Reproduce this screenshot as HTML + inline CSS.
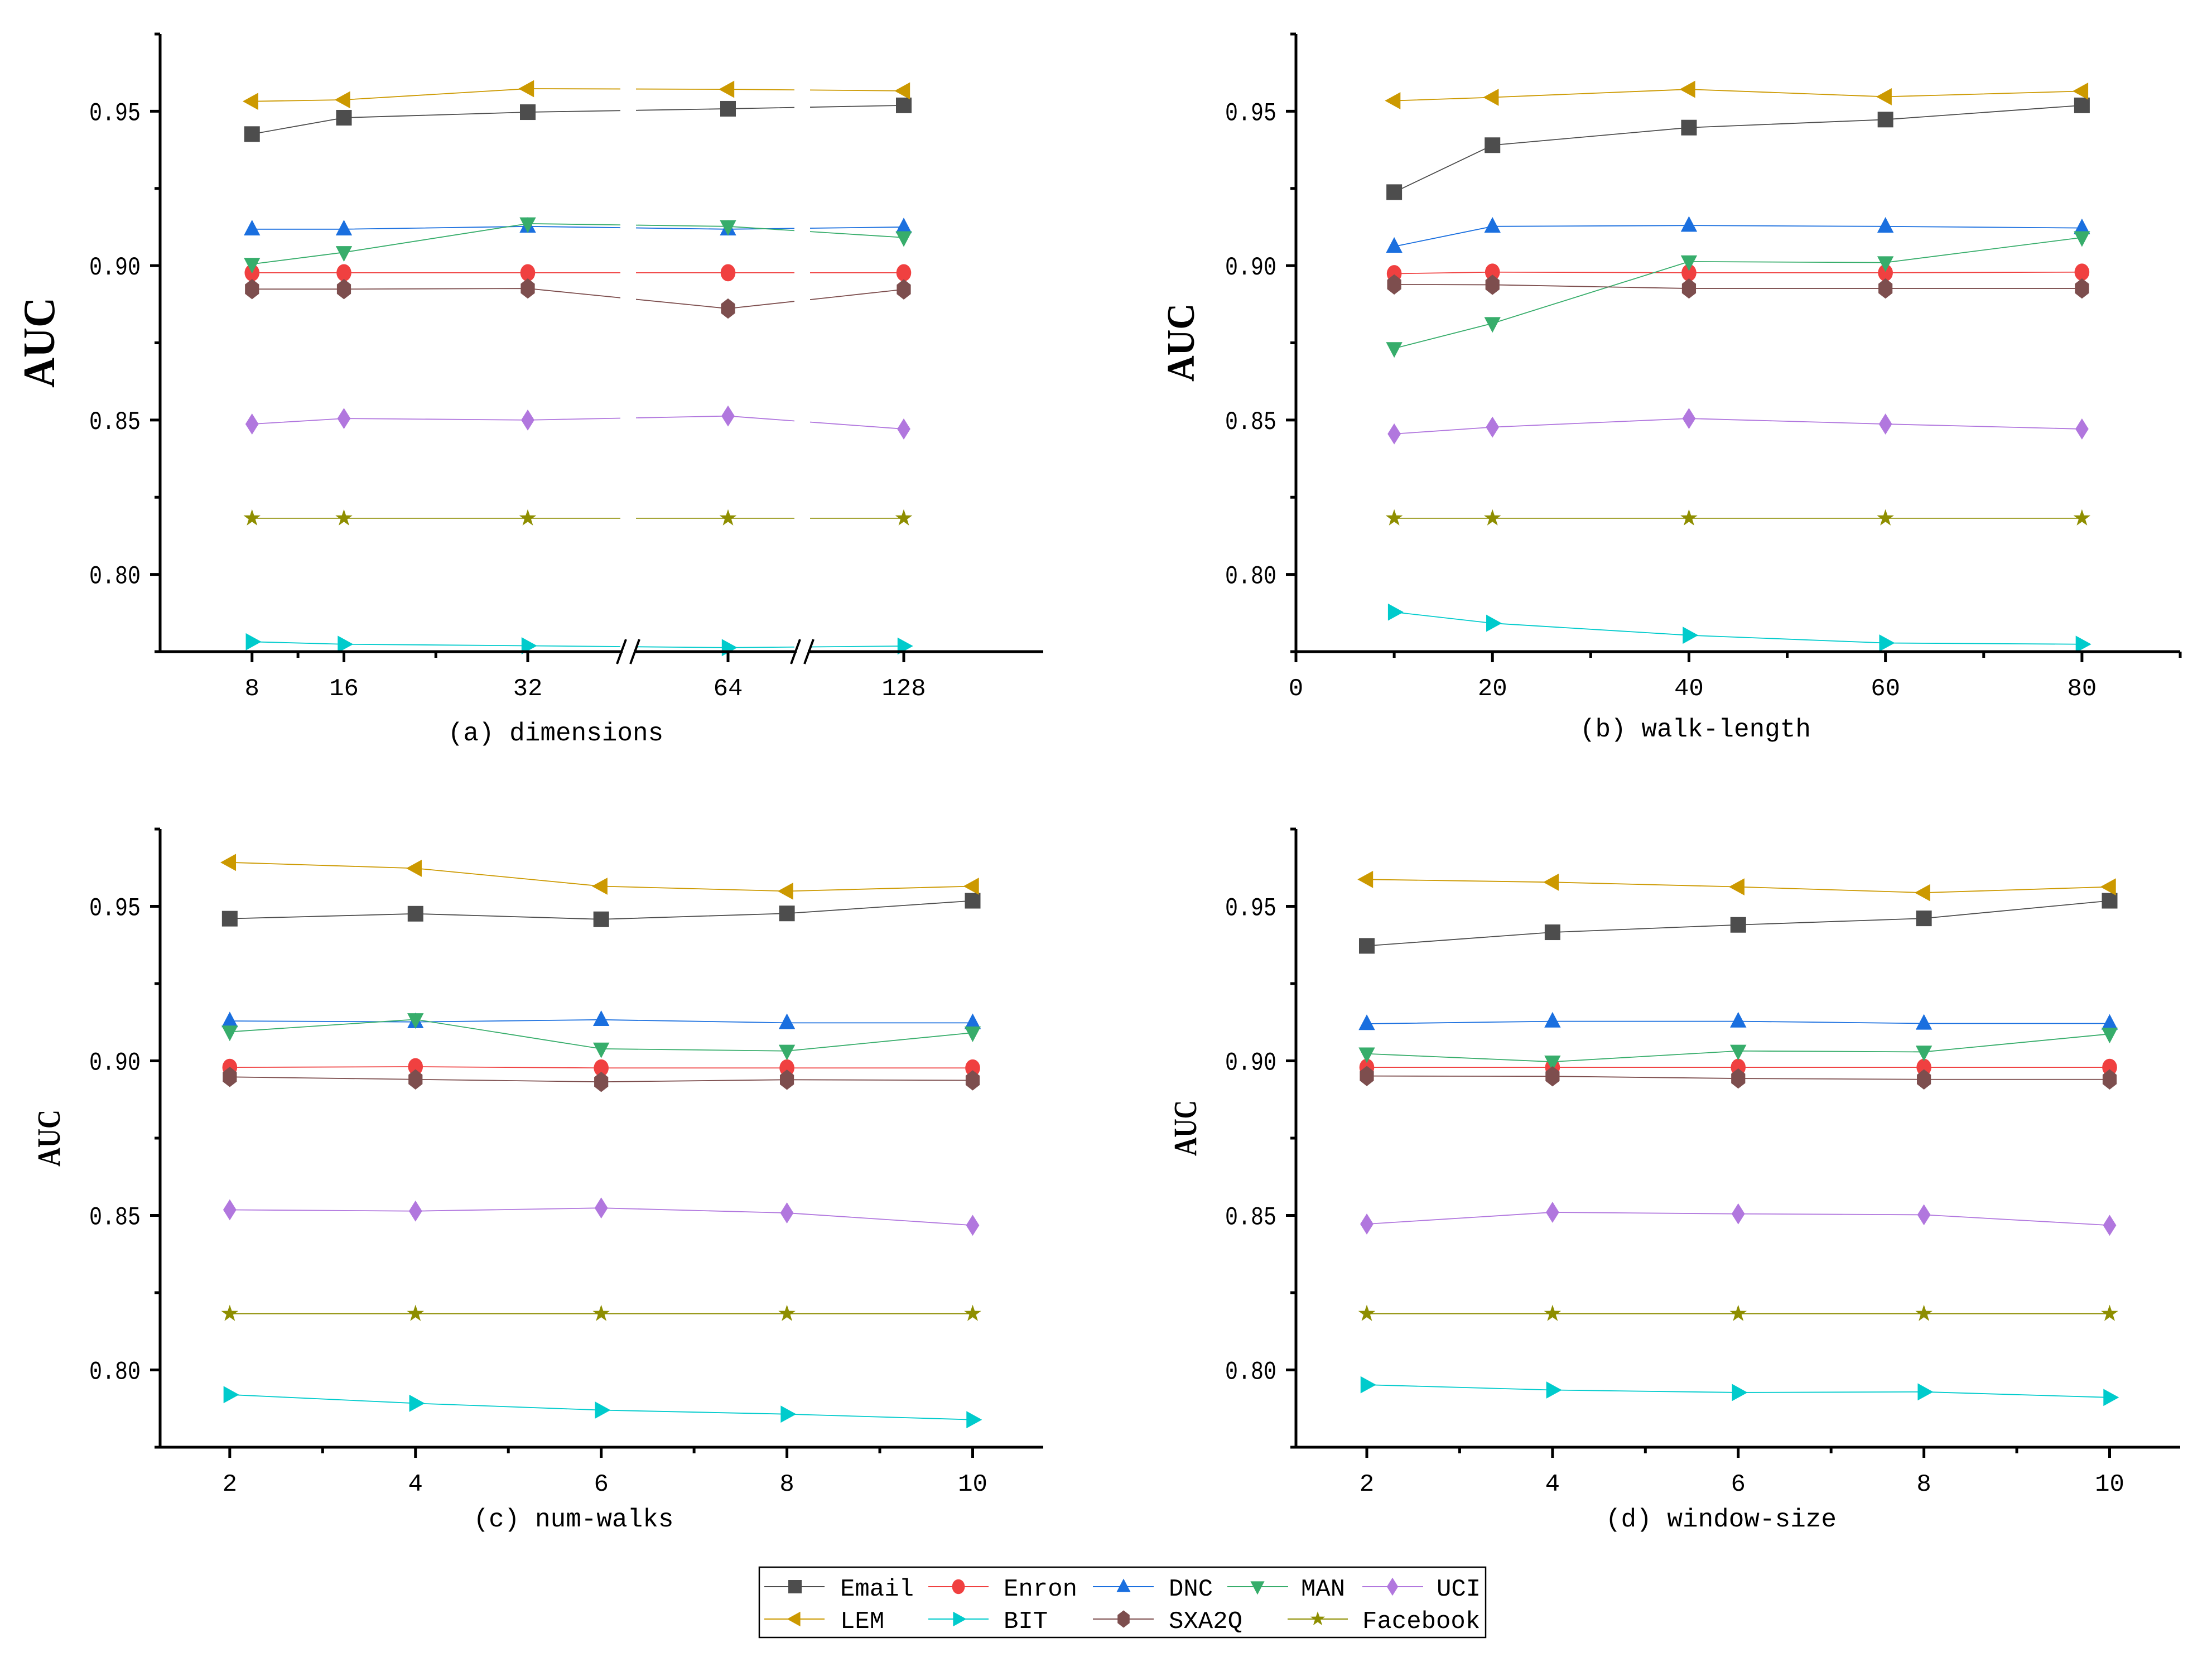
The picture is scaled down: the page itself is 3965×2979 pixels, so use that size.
<!DOCTYPE html>
<html><head><meta charset="utf-8"><style>
html,body{margin:0;padding:0;background:#fff;}
svg{display:block;}
text{font-family:"Liberation Mono",monospace;fill:#000;}
.auc{font-family:"Liberation Serif",serif;font-weight:bold;}
</style></head><body>
<svg id="chart" width="3965" height="2979" viewBox="0 0 3965 2979" xmlns="http://www.w3.org/2000/svg">
<rect width="3965" height="2979" fill="#fff"/>
</svg>
<script>
const seriesNames=["Email","Enron","DNC","MAN","UCI","LEM","BIT","SXA2Q","Facebook"];
const seriesColors=["#4d4d4d","#f04040","#1a6fdf","#37ad6b","#b177de","#cc9900","#00cbcc","#7d4e4e","#8e8e00"];
const seriesShapes=["square","circle","triUp","triDown","diamond","triLeft","triRight","hex","star"];
const yTicks=[0.80,0.85,0.90,0.95];
const yTickLabels=["0.80","0.85","0.90","0.95"];
const xA=[8,16,32,64,128];
const xALabels=["8","16","32","64","128"];
const xB=[10,20,40,60,80];
const xBTicks=[0,20,40,60,80];
const xC=[2,4,6,8,10];
const xD=[2,4,6,8,10];
const valsA=[
[0.9426,0.9479,0.9497,0.9508,0.9519],
[0.8977,0.8977,0.8977,0.8977,0.8977],
[0.9118,0.9118,0.9127,0.9118,0.9125],
[0.9005,0.9043,0.9136,0.9127,0.9091],
[0.8487,0.8505,0.8500,0.8513,0.8471],
[0.9532,0.9537,0.9573,0.9571,0.9566],
[0.7782,0.7774,0.7769,0.7763,0.7768],
[0.8924,0.8924,0.8926,0.8861,0.8923],
[0.8182,0.8182,0.8182,0.8182,0.8182]];
const valsB=[
[0.9238,0.9390,0.9447,0.9473,0.9519],
[0.8974,0.8979,0.8977,0.8977,0.8979],
[0.9062,0.9127,0.9130,0.9127,0.9122],
[0.8732,0.8813,0.9013,0.9010,0.9091],
[0.8455,0.8477,0.8505,0.8487,0.8471],
[0.9534,0.9545,0.9571,0.9547,0.9565],
[0.7878,0.7842,0.7803,0.7778,0.7774],
[0.8939,0.8938,0.8926,0.8926,0.8926],
[0.8182,0.8182,0.8182,0.8182,0.8182]];
const valsC=[
[0.9460,0.9476,0.9458,0.9477,0.9518],
[0.8979,0.8981,0.8977,0.8977,0.8977],
[0.9129,0.9126,0.9133,0.9123,0.9123],
[0.9094,0.9134,0.9039,0.9032,0.9091],
[0.8518,0.8514,0.8524,0.8508,0.8468],
[0.9642,0.9623,0.9565,0.9549,0.9565],
[0.7920,0.7892,0.7870,0.7857,0.7839],
[0.8948,0.8940,0.8932,0.8939,0.8937],
[0.8182,0.8182,0.8182,0.8182,0.8182]];
const valsD=[
[0.9372,0.9416,0.9440,0.9461,0.9518],
[0.8979,0.8979,0.8979,0.8979,0.8979],
[0.9120,0.9128,0.9128,0.9121,0.9121],
[0.9023,0.8997,0.9032,0.9029,0.9087],
[0.8472,0.8510,0.8505,0.8502,0.8468],
[0.9587,0.9578,0.9563,0.9544,0.9563],
[0.7952,0.7935,0.7927,0.7929,0.7911],
[0.8951,0.8950,0.8943,0.8940,0.8940],
[0.8182,0.8182,0.8182,0.8182,0.8182]];

const NS="http://www.w3.org/2000/svg";
const svg=document.getElementById('chart');
function mk(tag,attrs,parent){const e=document.createElementNS(NS,tag);for(const k in attrs)e.setAttribute(k,attrs[k]);(parent||svg).appendChild(e);return e;}
const Y0=0.775,Y1=0.975;
function yScale(top,bot){return v=>bot-(v-Y0)/(Y1-Y0)*(bot-top);}
function linX(px0,px1,d0,d1){return v=>px0+(v-d0)/(d1-d0)*(px1-px0);}
function pieceX(v){const d=[0,32,64,128],p=[287,946,1305,1620];
 for(let i=0;i<d.length-1;i++){if(v<=d[i+1])return p[i]+(v-d[i])/(d[i+1]-d[i])*(p[i+1]-p[i]);}return p[3];}

function marker(g,shape,cx,cy,color,s){
 let e;const r=s/2;
 if(shape==="square")e=mk('rect',{x:cx-r,y:cy-r,width:s,height:s},g);
 else if(shape==="circle")e=mk('ellipse',{cx:cx,cy:cy,rx:r*0.95,ry:r*1.1},g);
 else{let pts;
  if(shape==="triUp")pts=[[cx,cy-r*1.2],[cx+r*1.05,cy+r*0.8],[cx-r*1.05,cy+r*0.8]];
  else if(shape==="triDown")pts=[[cx,cy+r*1.2],[cx+r*1.05,cy-r*0.8],[cx-r*1.05,cy-r*0.8]];
  else if(shape==="triLeft")pts=[[cx-r*1.2,cy],[cx+r*0.8,cy-r*1.1],[cx+r*0.8,cy+r*1.1]];
  else if(shape==="triRight")pts=[[cx+r*1.2,cy],[cx-r*0.8,cy-r*1.1],[cx-r*0.8,cy+r*1.1]];
  else if(shape==="diamond")pts=[[cx,cy-r*1.35],[cx+r*0.85,cy],[cx,cy+r*1.35],[cx-r*0.85,cy]];
  else if(shape==="hex")pts=[[cx,cy-r*1.3],[cx+r*0.9,cy-r*0.6],[cx+r*0.9,cy+r*0.6],[cx,cy+r*1.3],[cx-r*0.9,cy+r*0.6],[cx-r*0.9,cy-r*0.6]];
  else{pts=[];for(let i=0;i<10;i++){const a=-Math.PI/2+i*Math.PI/5;const rr=i%2?r*0.45:r*1.15;pts.push([cx+rr*Math.cos(a),cy+rr*Math.sin(a)]);}}
  e=mk('polygon',{points:pts.map(p=>p.join(',')).join(' ')},g);}
 e.setAttribute('fill',color);
 return e;
}

function panel(cfg){
 const g=mk('g',{});
 
 
 const ys=yScale(cfg.top,cfg.bot);
 const sg=mk('g',{},g);
 for(let s=0;s<seriesNames.length;s++){
  const pts=cfg.xs.map((x,i)=>[cfg.xf(x),ys(cfg.vals[s][i])]);
  const pl=mk('polyline',{points:pts.map(p=>p.join(',')).join(' '),fill:'none',stroke:seriesColors[s],'stroke-width':1.8},sg);
  
  
  pts.forEach((p,i)=>{const m=marker(sg,seriesShapes[s],p[0],p[1],seriesColors[s],28);
   
   });
 }
 if(cfg.breaks){cfg.breaks.forEach(bx=>{mk('rect',{x:bx-14,y:cfg.top,width:28,height:cfg.bot-cfg.top-3,fill:'#fff'},g);});}
 const ax=mk('g',{stroke:'#000','stroke-width':5,fill:'none'},g);
 const yl=mk('line',{x1:cfg.left,y1:cfg.top,x2:cfg.left,y2:cfg.bot+2},ax);
 
 
 const xl=mk('line',{x1:cfg.left-10,y1:cfg.bot,x2:cfg.right,y2:cfg.bot},ax);
 
 
 yTicks.forEach((t,i)=>{const y=ys(t);
  mk('line',{x1:cfg.left-18,y1:y,x2:cfg.left,y2:y},ax);
  const tx=mk('text',{x:cfg.left-35,y:y+16,'font-size':46,'text-anchor':'end',textLength:92,lengthAdjust:'spacingAndGlyphs'},g);
  tx.textContent=yTickLabels[i];
  
  });
 [0.825,0.875,0.925,0.975].forEach(t=>{const y=ys(t);mk('line',{x1:cfg.left-10,y1:y,x2:cfg.left,y2:y},ax);});
 cfg.xticks.forEach((t,i)=>{const x=cfg.xf(t);
  mk('line',{x1:x,y1:cfg.bot,x2:x,y2:cfg.bot+19},ax);
  const tx=mk('text',{x:x,y:cfg.bot+78,'font-size':44,'text-anchor':'middle'},g);
  tx.textContent=cfg.xlabels[i];
  
  });
 cfg.minor.forEach(t=>{const x=cfg.xf(t);mk('line',{x1:x,y1:cfg.bot,x2:x,y2:cfg.bot+11},ax);});
 if(cfg.breaks){cfg.breaks.forEach(bx=>{
  mk('rect',{x:bx-10,y:cfg.bot-8,width:20,height:16,fill:'#fff',stroke:'none'},g);
  mk('line',{x1:bx-20,y1:cfg.bot+22,x2:bx-4,y2:cfg.bot-22,stroke:'#000','stroke-width':4},g);
  mk('line',{x1:bx+4,y1:cfg.bot+22,x2:bx+20,y2:cfg.bot-22,stroke:'#000','stroke-width':4},g);});}
 const tt=mk('text',{x:cfg.titleX,y:cfg.titleY,'font-size':46,'text-anchor':'middle'},g);
 tt.textContent=cfg.title;
 
 
 const at=mk('text',{class:'auc',x:0,y:0,'font-size':cfg.aucSize,'text-anchor':'middle',textLength:cfg.aucLen,lengthAdjust:'spacingAndGlyphs',transform:`translate(${cfg.aucX},${cfg.aucY}) rotate(-90)`},g);
 at.textContent="AUC";
 
 
}

panel({name:'panel-a-dimensions',left:287,right:1870,top:61,bot:1168,xs:xA,xf:pieceX,vals:valsA,
 xticks:xA,xlabels:xALabels,minor:[12,24],breaks:[1126,1438],title:'(a) dimensions',titleX:996,titleY:1327,
 aucX:97,aucY:614,aucSize:80,aucLen:162});
const xbf=linX(2323,3908,0,90);
panel({name:'panel-b-walk-length',left:2323,right:3908,top:61,bot:1168,xs:xB,xf:xbf,vals:valsB,
 xticks:xBTicks,xlabels:xBTicks.map(String),minor:[10,30,50,70,90],title:'(b) walk-length',titleX:3039,titleY:1320,
 aucX:2140,aucY:614,aucSize:70,aucLen:140});
const xcf=linX(287,1870,1.25,10.76);
panel({name:'panel-c-num-walks',left:287,right:1870,top:1486,bot:2594,xs:xC,xf:xcf,vals:valsC,
 xticks:xC,xlabels:xC.map(String),minor:[3,5,7,9],title:'(c) num-walks',titleX:1028,titleY:2736,
 aucX:107,aucY:2040,aucSize:58,aucLen:102});
const xdf=linX(2323,3908,1.237,10.76);
panel({name:'panel-d-window-size',left:2323,right:3908,top:1486,bot:2594,xs:xD,xf:xdf,vals:valsD,
 xticks:xD,xlabels:xD.map(String),minor:[3,5,7,9],title:'(d) window-size',titleX:3085,titleY:2736,
 aucX:2144,aucY:2022,aucSize:58,aucLen:100});

const lg=mk('g',{});


mk('rect',{x:1361,y:2809,width:1302,height:126,fill:'#fff',stroke:'#000','stroke-width':2.5},lg);
const legPos=[[1370,1478,1425,1506,2844],[1664,1772,1718,1799,2844],[1959,2068,2014,2095,2844],[2200,2309,2254,2332,2844],[2442,2551,2496,2575,2844],
 [1370,1478,1425,1506,2902],[1664,1772,1718,1799,2902],[1959,2068,2014,2095,2902],[2308,2416,2362,2442,2902]];
const legOrder=[0,1,2,3,4,5,6,7,8];
legOrder.forEach((s,i)=>{const p=legPos[i];
 const eg=mk('g',{},lg);
 
 
 mk('line',{x1:p[0],y1:p[4],x2:p[1],y2:p[4],stroke:seriesColors[s],'stroke-width':2},eg);
 marker(eg,seriesShapes[s],p[2],p[4],seriesColors[s],24);
 const t=mk('text',{x:p[3],y:p[4]+16,'font-size':44},eg);
 t.textContent=seriesNames[s];});
</script>
</body></html>
